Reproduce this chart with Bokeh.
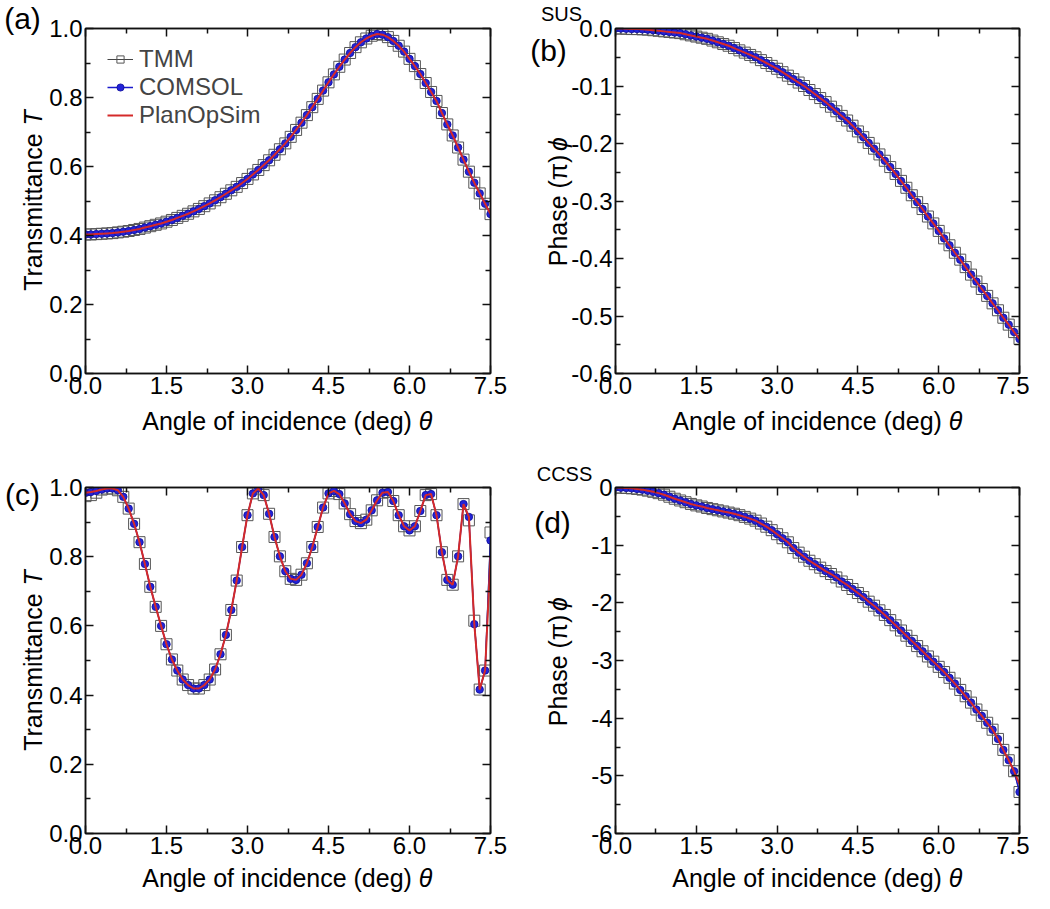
import math
from bokeh.plotting import figure
from bokeh.models import (Range1d, FixedTicker, PrintfTickFormatter, LinearAxis,
                          Label, Legend, LegendItem, GridBox, CustomLabelingPolicy)
from bokeh.embed import file_html
from bokeh.resources import INLINE

FONT = "Liberation Sans"
TICK_FS = "24px"
LAB_FS = 25

# ---------------- data ----------------
theta = [0.0, 0.1, 0.2, 0.3, 0.4, 0.5, 0.6, 0.7, 0.8, 0.9,
         1.0, 1.1, 1.2, 1.3, 1.4, 1.5, 1.6, 1.7, 1.8, 1.9,
         2.0, 2.1, 2.2, 2.3, 2.4, 2.5, 2.6, 2.7, 2.8, 2.9,
         3.0, 3.1, 3.2, 3.3, 3.4, 3.5, 3.6, 3.7, 3.8, 3.9,
         4.0, 4.1, 4.2, 4.3, 4.4, 4.5, 4.6, 4.7, 4.8, 4.9,
         5.0, 5.1, 5.2, 5.3, 5.4, 5.5, 5.6, 5.7, 5.8, 5.9,
         6.0, 6.1, 6.2, 6.3, 6.4, 6.5, 6.6, 6.7, 6.8, 6.9,
         7.0, 7.1, 7.2, 7.3, 7.4, 7.5]

# (a) SUS transmittance
sus_T = [0.403, 0.403, 0.404, 0.405, 0.406, 0.407, 0.409, 0.411, 0.413, 0.416,
         0.419, 0.423, 0.427, 0.431, 0.435, 0.440, 0.445, 0.451, 0.457, 0.463,
         0.470, 0.477, 0.485, 0.493, 0.502, 0.511, 0.521, 0.531, 0.541, 0.552,
         0.564, 0.577, 0.590, 0.604, 0.618, 0.634, 0.650, 0.667, 0.686, 0.706,
         0.727, 0.749, 0.772, 0.796, 0.820, 0.844, 0.867, 0.889, 0.910, 0.929,
         0.946, 0.960, 0.971, 0.979, 0.984, 0.982, 0.975, 0.964, 0.950, 0.933,
         0.912, 0.891, 0.868, 0.842, 0.816, 0.790, 0.755, 0.722, 0.690, 0.655,
         0.620, 0.585, 0.553, 0.522, 0.492, 0.462]

# (b) SUS phase (pi)
sus_phi = [0.000, 0.000, -0.0005, -0.001, -0.001, -0.0015, -0.002, -0.003, -0.004, -0.005,
           -0.006, -0.007, -0.008, -0.010, -0.012, -0.014, -0.016, -0.018, -0.021, -0.024,
           -0.027, -0.030, -0.034, -0.038, -0.042, -0.046, -0.050, -0.055, -0.060, -0.065,
           -0.070, -0.076, -0.082, -0.088, -0.094, -0.100, -0.107, -0.114, -0.121, -0.128,
           -0.136, -0.144, -0.152, -0.160, -0.169, -0.179, -0.189, -0.199, -0.209, -0.219,
           -0.230, -0.241, -0.253, -0.265, -0.277, -0.290, -0.302, -0.314, -0.327, -0.339,
           -0.352, -0.365, -0.377, -0.390, -0.402, -0.415, -0.428, -0.440, -0.453, -0.465,
           -0.478, -0.490, -0.503, -0.515, -0.528, -0.540]

# (c) CCSS transmittance
ccss_T_tmm = [0.975, 0.978, 0.985, 0.994, 0.997, 0.997, 0.992, 0.973, 0.939, 0.895,
              0.842, 0.779, 0.713, 0.655, 0.600, 0.547, 0.503, 0.471, 0.445, 0.429,
              0.419, 0.419, 0.429, 0.445, 0.474, 0.518, 0.574, 0.646, 0.731, 0.828,
              0.920, 0.983, 0.997, 0.978, 0.924, 0.857, 0.801, 0.758, 0.736, 0.733,
              0.748, 0.781, 0.828, 0.886, 0.942, 0.983, 0.990, 0.981, 0.954, 0.923,
              0.903, 0.897, 0.907, 0.934, 0.963, 0.985, 0.987, 0.961, 0.920, 0.888,
              0.876, 0.888, 0.932, 0.978, 0.981, 0.920, 0.813, 0.733, 0.719, 0.801,
              0.952, 0.905, 0.615, 0.416, 0.471, 0.870]
ccss_T_comsol = [0.985, 0.987, 0.990, 0.994, 0.997, 0.997, 0.992, 0.973, 0.939, 0.895,
                 0.842, 0.779, 0.713, 0.655, 0.600, 0.547, 0.503, 0.471, 0.445, 0.429,
                 0.419, 0.419, 0.429, 0.445, 0.474, 0.518, 0.574, 0.646, 0.731, 0.828,
                 0.920, 0.983, 0.997, 0.978, 0.924, 0.857, 0.801, 0.758, 0.736, 0.733,
                 0.748, 0.781, 0.828, 0.886, 0.942, 0.983, 0.990, 0.981, 0.954, 0.923,
                 0.903, 0.897, 0.907, 0.934, 0.963, 0.985, 0.987, 0.961, 0.920, 0.888,
                 0.876, 0.888, 0.932, 0.978, 0.981, 0.920, 0.813, 0.733, 0.719, 0.801,
                 0.952, 0.915, 0.605, 0.416, 0.471, 0.847]
ccss_T_planop = [0.985, 0.987, 0.990, 0.994, 0.997, 0.997, 0.992, 0.973, 0.939, 0.895,
                 0.842, 0.779, 0.713, 0.655, 0.600, 0.547, 0.503, 0.471, 0.445, 0.429,
                 0.419, 0.419, 0.429, 0.445, 0.474, 0.518, 0.574, 0.646, 0.731, 0.828,
                 0.920, 0.983, 0.997, 0.978, 0.924, 0.857, 0.801, 0.758, 0.736, 0.733,
                 0.748, 0.781, 0.828, 0.886, 0.942, 0.983, 0.990, 0.981, 0.954, 0.923,
                 0.903, 0.897, 0.907, 0.934, 0.963, 0.985, 0.987, 0.961, 0.920, 0.888,
                 0.876, 0.888, 0.932, 0.978, 0.981, 0.920, 0.813, 0.733, 0.719, 0.801,
                 0.952, 0.915, 0.605, 0.416, 0.471, 0.800]

# (d) CCSS phase (pi)
ccss_phi = [0.000, -0.003, -0.008, -0.015, -0.025, -0.037, -0.055, -0.075, -0.098, -0.125,
            -0.160, -0.195, -0.225, -0.255, -0.285, -0.310, -0.330, -0.355, -0.375, -0.395,
            -0.415, -0.435, -0.455, -0.480, -0.510, -0.540, -0.575, -0.625, -0.680, -0.740,
            -0.810, -0.880, -0.950, -1.050, -1.130, -1.200, -1.270, -1.330, -1.390, -1.450,
            -1.500, -1.560, -1.630, -1.690, -1.760, -1.830, -1.900, -1.980, -2.050, -2.130,
            -2.210, -2.300, -2.390, -2.480, -2.570, -2.660, -2.750, -2.840, -2.930, -3.020,
            -3.110, -3.200, -3.300, -3.400, -3.510, -3.620, -3.730, -3.850, -3.960, -4.080,
            -4.200, -4.360, -4.550, -4.730, -4.920, -5.280]
ccss_phi_planop = [0.000, -0.003, -0.008, -0.015, -0.025, -0.037, -0.055, -0.075, -0.098, -0.125,
                   -0.160, -0.195, -0.225, -0.255, -0.285, -0.310, -0.330, -0.355, -0.375, -0.395,
                   -0.415, -0.435, -0.455, -0.480, -0.510, -0.540, -0.575, -0.625, -0.680, -0.740,
                   -0.810, -0.880, -0.950, -1.050, -1.130, -1.200, -1.270, -1.330, -1.390, -1.450,
                   -1.500, -1.560, -1.630, -1.690, -1.760, -1.830, -1.900, -1.980, -2.050, -2.130,
                   -2.210, -2.300, -2.390, -2.480, -2.570, -2.660, -2.750, -2.840, -2.930, -3.020,
                   -3.110, -3.200, -3.300, -3.400, -3.510, -3.620, -3.730, -3.850, -3.960, -4.080,
                   -4.200, -4.360, -4.550, -4.730, -4.920, -5.150]

x_major = [0.0, 1.5, 3.0, 4.5, 6.0, 7.5]
x_minor = [0.75, 2.25, 3.75, 5.25, 6.75]
T_major = [0.0, 0.2, 0.4, 0.6, 0.8, 1.0]
T_minor = [0.1, 0.3, 0.5, 0.7, 0.9]
sus_phi_major = [0.0, -0.1, -0.2, -0.3, -0.4, -0.5, -0.6]
sus_phi_minor = [-0.05, -0.15, -0.25, -0.35, -0.45, -0.55]
ccss_phi_major = [0, -1, -2, -3, -4, -5, -6]
ccss_phi_minor = [-0.5, -1.5, -2.5, -3.5, -4.5, -5.5]

series_names = ["TMM", "COMSOL", "PlanOpSim"]

# ---------------- helpers ----------------
AW = {'A': 667, 'n': 556, 'g': 556, 'l': 222, 'e': 556, ' ': 278, 'o': 556, 'f': 278,
      'i': 222, 'c': 500, 'd': 556, '(': 333, ')': 333, 'T': 611, 'r': 333, 'a': 556,
      's': 500, 'm': 833, 't': 278, 'P': 667, 'h': 556, 'π': 556, 'θ': 556, 'ϕ': 650}


def text_w(s, fs):
    return sum(AW.get(ch, 556) for ch in s) * fs / 1000.0


def style_axis(ax, show_labels=True):
    ax.axis_line_color = "#111111"
    ax.axis_line_width = 1.5
    ax.major_tick_in = 8
    ax.major_tick_out = 0
    ax.minor_tick_in = 5
    ax.minor_tick_out = 0
    ax.major_tick_line_color = "#111111"
    ax.minor_tick_line_color = "#111111"
    ax.major_tick_line_width = 1.5
    ax.minor_tick_line_width = 1.5
    ax.major_label_text_font = FONT
    ax.major_label_text_color = "black"
    if show_labels:
        ax.major_label_text_font_size = TICK_FS
        ax.major_label_standoff = 3
    else:
        ax.major_label_text_font_size = "0px"
        ax.major_label_standoff = 0
        ax.major_label_policy = CustomLabelingPolicy(code="return new Set()")


def make_fig(w, h, ml, mr, mt, mb, yr, ymaj, ymin, yfmt):
    p = figure(width=w, height=h, x_range=Range1d(0, 7.5), y_range=Range1d(*yr),
               output_backend="svg", toolbar_location=None,
               min_border_left=ml, min_border_right=mr,
               min_border_top=mt, min_border_bottom=mb)
    p.xgrid.visible = False
    p.ygrid.visible = False
    p.outline_line_color = "#111111"
    p.outline_line_width = 1.5
    p.background_fill_color = "white"
    p.border_fill_color = "white"
    xt = FixedTicker(ticks=x_major, minor_ticks=x_minor)
    yt = FixedTicker(ticks=ymaj, minor_ticks=ymin)
    p.xaxis.ticker = xt
    p.yaxis.ticker = yt
    p.xaxis.formatter = PrintfTickFormatter(format="%.1f")
    p.yaxis.formatter = PrintfTickFormatter(format=yfmt)
    style_axis(p.xaxis[0])
    style_axis(p.yaxis[0])
    top = LinearAxis(ticker=FixedTicker(ticks=x_major, minor_ticks=x_minor))
    right = LinearAxis(ticker=FixedTicker(ticks=ymaj, minor_ticks=ymin))
    style_axis(top, False)
    style_axis(right, False)
    p.add_layout(top, "above")
    p.add_layout(right, "right")
    return p


def add_series(p, tmm, com, pos):
    l1 = p.line(theta, tmm, line_color="#444444", line_width=1)
    s1 = p.scatter(theta, tmm, marker="square", size=11, line_color="#555555",
                   fill_color=None, line_width=1)
    l2 = p.line(theta, com, line_color="#1a1acc", line_width=1.5)
    s2 = p.scatter(theta, com, marker="circle", size=7.5, fill_color="#2323d8",
                   line_color="#0c0c9a", line_width=0.8)
    l3 = p.line(theta, pos, line_color="#d42a2a", line_width=2)
    return [l1, s1], [l2, s2], [l3]


# ---------------- panels ----------------
pa = make_fig(530, 448, 85, 40, 28, 75, (0, 1.0), T_major, T_minor, "%.1f")
pb = make_fig(499, 448, 85, 10, 28, 75, (-0.6, 0.0), sus_phi_major, sus_phi_minor, "%.1f")
pc = make_fig(530, 445, 85, 40, 39, 60, (0, 1.0), T_major, T_minor, "%.1f")
pd = make_fig(499, 445, 85, 10, 39, 60, (-6, 0), ccss_phi_major, ccss_phi_minor, "%d")

ra = add_series(pa, sus_T, sus_T, sus_T)
add_series(pb, sus_phi, sus_phi, sus_phi)
add_series(pc, ccss_T_tmm, ccss_T_comsol, ccss_T_planop)
add_series(pd, ccss_phi, ccss_phi, ccss_phi_planop)

legend = Legend(items=[LegendItem(label=n, renderers=r) for n, r in zip(series_names, ra)],
                location=(22, 244), border_line_color=None, background_fill_alpha=0,
                label_text_font=FONT, label_text_font_size="24px",
                glyph_width=26, glyph_height=18, label_standoff=6, spacing=0,
                padding=0, margin=0, label_height=20)
pa.add_layout(legend)

# ---------------- transparent overlay for texts outside the frames ----------------
# Its data coordinates are page pixels (x to the right, y = 901 - page y).
OW, OH = 1029, 893
ov = figure(width=OW, height=OH, x_range=Range1d(8, 8 + OW), y_range=Range1d(0, OH),
            x_axis_type=None, y_axis_type=None, output_backend="svg",
            toolbar_location=None, min_border=0)
try:
    ov.frame_align = False
except Exception:
    pass
ov.outline_line_color = None
ov.background_fill_color = None
ov.border_fill_color = None
ov.xgrid.visible = False
ov.ygrid.visible = False


def put(text, px, py, fs, align="left", baseline="middle", angle=0.0, italic=False):
    ov.add_layout(Label(x=px, y=901 - py, text=text, text_font=FONT,
                        text_font_size=f"{fs}px", text_align=align,
                        text_baseline=baseline, angle=angle, text_color="black",
                        text_font_style="italic" if italic else "normal"))


def xlabel(cx, cy, main="Angle of incidence (deg)", ital="θ"):
    wm, ws, wi = text_w(main, LAB_FS), text_w(" ", LAB_FS), text_w(ital, LAB_FS)
    start = cx - (wm + ws + wi) / 2
    put(main, start, cy, LAB_FS)
    put(ital, start + wm + ws, cy, LAB_FS, italic=True)


def ylabel(cx, cy, main, ital):
    wm, ws, wi = text_w(main, LAB_FS), text_w(" ", LAB_FS), text_w(ital, LAB_FS)
    bottom = cy + (wm + ws + wi) / 2
    put(main, cx, bottom, LAB_FS, angle=math.pi / 2)
    put(ital, cx, bottom - wm - ws, LAB_FS, angle=math.pi / 2, italic=True)


xlabel(295, 428)
xlabel(825, 428)
xlabel(295, 885)
xlabel(825, 885)
ylabel(40, 208, "Transmittance", "T")
ylabel(40, 668, "Transmittance", "T")
ylabel(565, 208, "Phase (π)", "ϕ")
ylabel(565, 668, "Phase (π)", "ϕ")

put("(a)", 30, 26, 30, align="center")
put("(b)", 556, 58, 30, align="center")
put("(c)", 30, 502, 30, align="center")
put("(d)", 560, 530, 30, align="center")
put("SUS", 569, 21, 20, align="center")
put("CCSS", 572, 481, 20, align="center")

grid = GridBox(children=[(pa, 0, 0), (pb, 0, 1), (pc, 1, 0), (pd, 1, 1),
                         (ov, 0, 0, 2, 2)], spacing=0)
open("out.html", "w").write(file_html(grid, INLINE))
